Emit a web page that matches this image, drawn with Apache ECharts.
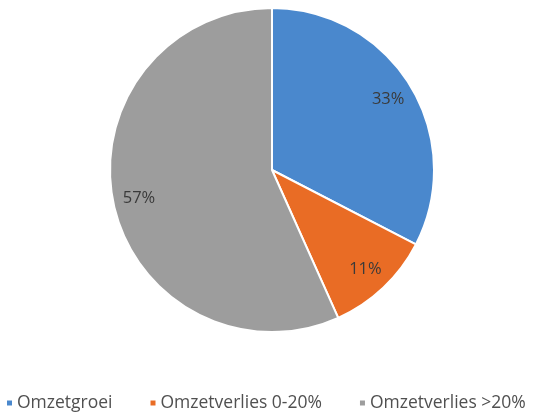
<!DOCTYPE html>
<html><head><meta charset="utf-8">
<script src="https://cdn.jsdelivr.net/npm/echarts@6/dist/echarts.min.js"></script>
<style>html,body{margin:0;padding:0;background:#fff}#c{width:541px;height:412px}</style>
</head><body><div id="c"></div>
<script>
const categories = ['Omzetgroei', 'Omzetverlies 0-20%', 'Omzetverlies >20%'];
const values = [32.6, 10.7, 56.7];
const colors = ['#4a88cd', '#e96c25', '#9d9d9d'];

const chart = echarts.init(document.getElementById('c'));
const data = categories.map((n, i) => ({ name: n, value: values[i] }));
chart.setOption({
  animation: false,
  color: colors,
  legend: {
    data: categories,
    left: 0, top: 389,
    icon: 'rect', itemWidth: 7, itemHeight: 7, itemGap: 36,
    textStyle: { fontFamily: 'Open Sans', fontSize: 17.5, color: '#505050', padding: [0, 0, 0, -1] }
  },
  series: [
    {
      type: 'pie', center: [272, 170], radius: [0, 162], startAngle: 90, clockwise: true,
      itemStyle: { borderColor: '#fff', borderWidth: 2 },
      label: { show: false }, labelLine: { show: false }, silent: true,
      data: data
    },
    {
      type: 'pie', center: [272, 170], radius: [104, 162], startAngle: 90, clockwise: true,
      itemStyle: { color: 'rgba(0,0,0,0)' }, silent: true,
      label: { show: true, position: 'inside', color: '#3a3a3a', fontFamily: 'Open Sans', fontSize: 16.5,
        formatter: p => Math.round(p.percent) + '%' },
      labelLine: { show: false },
      data: data
    }
  ]
});
</script></body></html>
